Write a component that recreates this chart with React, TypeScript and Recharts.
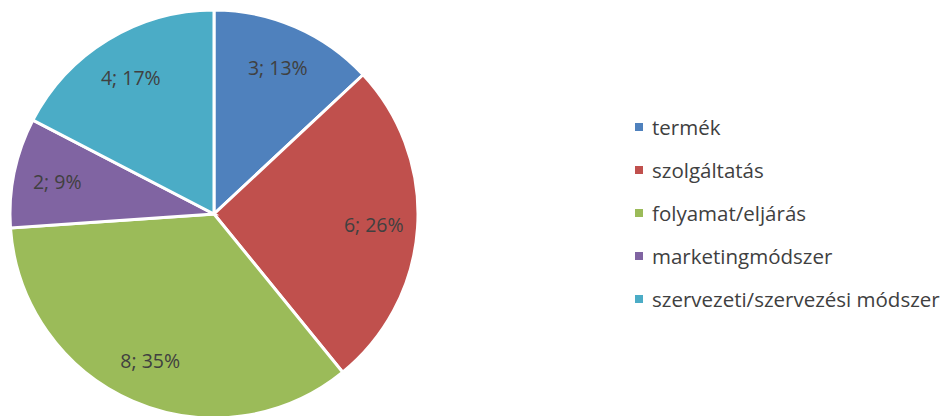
import React from 'react';
import { PieChart, Pie, Cell } from 'recharts';

const categories = ['termék', 'szolgáltatás', 'folyamat/eljárás', 'marketingmódszer', 'szervezeti/szervezési módszer'];
const counts = [3, 6, 8, 2, 4];
const colors = ['#4F81BD', '#C0504D', '#9BBB59', '#8064A2', '#4BACC6'];

const data = categories.map((name, i) => ({ name, value: counts[i] }));

const FONT = '"Open Sans", "Noto Sans", sans-serif';
const RAD = Math.PI / 180;

const renderLabel = (props: any) => {
  const { cx, cy, midAngle, outerRadius, value, percent } = props;
  const r = outerRadius * 0.785;
  const x = cx + r * Math.cos(-midAngle * RAD);
  const y = cy + r * Math.sin(-midAngle * RAD);
  return (
    <text x={x} y={y} fill="#404040" fontSize={19.5} fontFamily={FONT} textAnchor="middle" dominantBaseline="central">
      {`${value}; ${Math.round(percent * 100)}%`}
    </text>
  );
};

export default function App() {
  return (
    <div style={{ position: 'absolute', left: 0, top: 0, width: 952, height: 416, background: '#fff' }}>
      <PieChart width={952} height={416} margin={{ top: 0, right: 0, bottom: 0, left: 0 }}>
        <Pie
          data={data}
          dataKey="value"
          nameKey="name"
          cx={214}
          cy={214}
          outerRadius={204}
          startAngle={90}
          endAngle={-270}
          stroke="#ffffff"
          strokeWidth={3}
          label={renderLabel}
          labelLine={false}
          isAnimationActive={false}
        >
          {data.map((d, i) => (
            <Cell key={d.name} fill={colors[i]} />
          ))}
        </Pie>
      </PieChart>
      <div style={{ position: 'absolute', left: 635, top: 105, fontFamily: FONT, fontSize: 20.5, color: '#404040' }}>
        {categories.map((c, i) => (
          <div key={c} style={{ display: 'flex', alignItems: 'center', height: 43, whiteSpace: 'nowrap' }}>
            <span style={{ display: 'inline-block', width: 8, height: 8, background: colors[i], marginRight: 9 }} />
            <span>{c}</span>
          </div>
        ))}
      </div>
    </div>
  );
}
